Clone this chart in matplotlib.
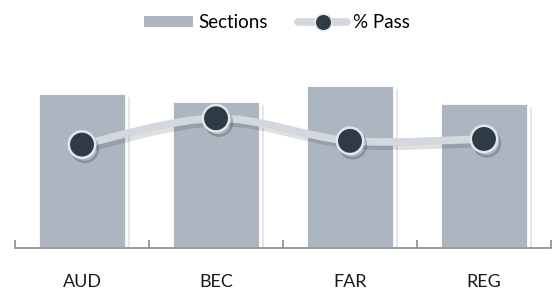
import matplotlib.pyplot as plt
import matplotlib.patheffects as pe
from matplotlib.path import Path
from matplotlib.patches import PathPatch, Patch
from matplotlib.lines import Line2D
import numpy as np

categories = ["AUD", "BEC", "FAR", "REG"]
sections = [33.0, 31.3, 34.7, 30.9]
pct_pass = [55, 69, 57, 58]

bar_color = "#adb5c1"
line_color = "#d3d8de"
dot_color = "#2e3a45"

plt.rcParams["font.family"] = ["Lato", "DejaVu Sans"]

fig = plt.figure(figsize=(5.54, 2.96), dpi=100)
ax = fig.add_axes([15 / 554, 1 - 248 / 296, 536 / 554, 188 / 296])
x = np.arange(len(categories))

shadow = [pe.SimplePatchShadow(offset=(3, -3), alpha=0.2, shadow_rgbFace="#888888"), pe.Normal()]
bars = ax.bar(x, sections, width=0.65, color=bar_color, edgecolor="white", linewidth=2, zorder=2)
for b in bars:
    b.set_path_effects(shadow)

ax.set_xlim(-0.5, 3.5)
ax.set_ylim(0, 40)
ax.set_yticks([])
for s in ["top", "right", "left"]:
    ax.spines[s].set_visible(False)
ax.spines["bottom"].set_color("#8c8c8c")
ax.spines["bottom"].set_linewidth(1.2)
ax.set_xticks(np.arange(-0.5, 4, 1))
ax.set_xticklabels([])
ax.tick_params(axis="x", direction="in", length=6, color="#8c8c8c", width=1.2)
for xi, lab in zip(x, categories):
    ax.text(xi, -0.18, lab, transform=ax.get_xaxis_transform(), ha="center", va="center",
            fontsize=13, color="#1a1a1a")

ax2 = ax.twinx()
ax2.set_ylim(0, 100)
ax2.set_yticks([])
for s in ax2.spines.values():
    s.set_visible(False)

# smooth curve through the points (cubic bezier, catmull-rom style)
px = list(x)
py = list(pct_pass)
verts = [(px[0], py[0])]
codes = [Path.MOVETO]
for i in range(len(px) - 1):
    p0 = (px[i - 1], py[i - 1]) if i > 0 else (px[i], py[i])
    p1 = (px[i], py[i])
    p2 = (px[i + 1], py[i + 1])
    p3 = (px[i + 2], py[i + 2]) if i + 2 < len(px) else p2
    c1 = (p1[0] + (p2[0] - p0[0]) / 6, p1[1] + (p2[1] - p0[1]) / 6)
    c2 = (p2[0] - (p3[0] - p1[0]) / 6, p2[1] - (p3[1] - p1[1]) / 6)
    verts += [c1, c2, p2]
    codes += [Path.CURVE4] * 3
curve = PathPatch(Path(verts, codes), facecolor="none", edgecolor=line_color, linewidth=5.5,
                  capstyle="round", zorder=3)
curve.set_path_effects([pe.SimpleLineShadow(offset=(2, -3), alpha=0.12), pe.Normal()])
ax2.add_patch(curve)
ax2.plot(x, pct_pass, linestyle="none", marker="o", markersize=19, markerfacecolor=dot_color,
         markeredgecolor="#e3e6ea", markeredgewidth=1.8, zorder=4,
         path_effects=[pe.SimpleLineShadow(offset=(2, -3), alpha=0.2), pe.Normal()])

handles = [Patch(facecolor=bar_color, edgecolor="none"),
           Line2D([0], [0], color=line_color, linewidth=5.5, marker="o", markersize=12,
                  markerfacecolor=dot_color, markeredgecolor="#e3e6ea", markeredgewidth=1.2,
                  solid_capstyle="round")]
fig.legend(handles, ["Sections", "% Pass"], loc="upper center", bbox_to_anchor=(0.5, 1.01),
           ncol=2, frameon=False, fontsize=13.5, handlelength=2.6, handleheight=0.55,
           columnspacing=1.6, handletextpad=0.3)

fig.savefig("out.png", dpi=100)
